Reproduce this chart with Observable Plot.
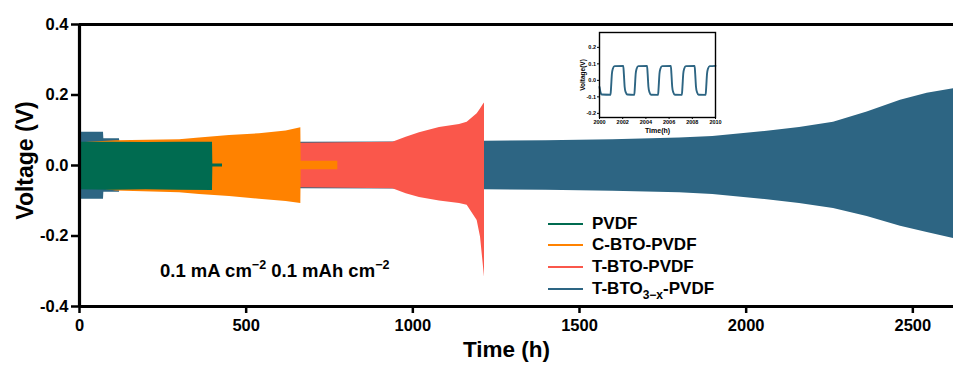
<!DOCTYPE html>
<html>
<head>
<meta charset="utf-8">
<script src="https://cdn.jsdelivr.net/npm/d3@7"></script>
<script src="https://cdn.jsdelivr.net/npm/@observablehq/plot@0.6"></script>
<style>
  body { margin: 0; background: #fff; }
  #wrap { position: relative; width: 953px; height: 367px; overflow: hidden; font-family: "Liberation Sans", Arial, sans-serif; font-weight: bold; color: #000; }
  #wrap svg { display: block; }
  .abs { position: absolute; }
  .leg { position: absolute; left: 548px; display: flex; align-items: center; height: 20px; font-size: 17px; white-space: nowrap; }
  .leg svg { margin-right: 9px; }
  .leg sub { font-size: 12px; vertical-align: -5px; line-height: 0; }
  sup { font-size: 12.5px; vertical-align: 8px; line-height: 0; }
</style>
</head>
<body>
<div id="wrap"></div>
<script>
// ---- data ----
const seriesNames = ["PVDF", "C-BTO-PVDF", "T-BTO-PVDF", "T-BTO3-x-PVDF"];
const colors = ["#006B50", "#FF8200", "#FA574B", "#2D6583"];

const greenT  = [0, 5, 100, 200, 300, 399, 400, 429];
const greenHi = [0.062, 0.066, 0.066, 0.065, 0.066, 0.066, 0.004, 0.004];
const greenLo = [-0.062, -0.069, -0.070, -0.069, -0.070, -0.071, -0.004, -0.004];

const orangeT  = [0, 30, 110, 300, 360, 450, 540, 620, 664, 665, 775];
const orangeHi = [0.064, 0.066, 0.070, 0.073, 0.078, 0.085, 0.090, 0.098, 0.107, 0.012, 0.012];
const orangeLo = [-0.060, -0.062, -0.072, -0.077, -0.082, -0.088, -0.096, -0.102, -0.108, -0.012, -0.012];

const redT  = [0, 665, 940, 980, 1020, 1080, 1140, 1163, 1193, 1203, 1211, 1215];
const redHi = [0.060, 0.063, 0.066, 0.080, 0.093, 0.108, 0.116, 0.123, 0.147, 0.160, 0.172, 0.177];
const redLo = [-0.060, -0.063, -0.066, -0.080, -0.091, -0.101, -0.108, -0.113, -0.156, -0.203, -0.278, -0.317];

const blueT  = [0, 72, 73, 120, 121, 665, 950, 1215, 1400, 1600, 1800, 1900, 2063, 2160, 2262, 2363, 2463, 2543, 2622];
const blueHi = [0.094, 0.094, 0.076, 0.076, 0.066, 0.066, 0.067, 0.069, 0.070, 0.073, 0.078, 0.082, 0.097, 0.108, 0.123, 0.152, 0.185, 0.205, 0.218];
const blueLo = [-0.096, -0.096, -0.076, -0.076, -0.066, -0.066, -0.067, -0.069, -0.070, -0.073, -0.077, -0.082, -0.097, -0.108, -0.122, -0.145, -0.172, -0.190, -0.207];

const xTicks = [0, 500, 1000, 1500, 2000, 2500];
const yTicks = [-0.4, -0.2, 0.0, 0.2, 0.4];

// inset: T-BTO3-x-PVDF, 2000-2010 h
const insetT = [2000.0, 2000.08, 2000.2,
  2000.95, 2001.0, 2001.07, 2001.15, 2001.3,
  2002.05, 2002.1, 2002.17, 2002.25, 2002.4,
  2003.0, 2003.05, 2003.12, 2003.2, 2003.35,
  2004.1, 2004.15, 2004.22, 2004.3, 2004.45,
  2005.05, 2005.1, 2005.17, 2005.25, 2005.4,
  2006.15, 2006.2, 2006.27, 2006.35, 2006.5,
  2007.1, 2007.15, 2007.22, 2007.3, 2007.45,
  2008.2, 2008.25, 2008.32, 2008.4, 2008.55,
  2009.15, 2009.2, 2009.27, 2009.35, 2009.5,
  2010.0];
const insetV = [-0.040, -0.070, -0.086,
  -0.087, -0.040, 0.040, 0.070, 0.086,
  0.087, 0.040, -0.040, -0.070, -0.086,
  -0.088, -0.040, 0.040, 0.070, 0.086,
  0.087, 0.040, -0.040, -0.070, -0.087,
  -0.088, -0.040, 0.040, 0.070, 0.086,
  0.087, 0.040, -0.040, -0.070, -0.087,
  -0.088, -0.040, 0.040, 0.070, 0.086,
  0.087, 0.040, -0.040, -0.070, -0.087,
  -0.088, -0.040, 0.040, 0.070, 0.086,
  0.088];
const insetXTicks = [2000, 2002, 2004, 2006, 2008, 2010];
const insetYTicks = [-0.2, -0.1, 0.0, 0.1, 0.2];

// ---- build ----
const band = (T, H, L) => T.map((t, i) => ({t, hi: H[i], lo: L[i]}));
const bands = [
  band(blueT, blueHi, blueLo),
  band(redT, redHi, redLo),
  band(orangeT, orangeHi, orangeLo),
  band(greenT, greenHi, greenLo)
];
const bandColors = [colors[3], colors[2], colors[1], colors[0]];
const font = "'Liberation Sans', Arial, sans-serif";

const main = Plot.plot({
  width: 953, height: 367,
  marginLeft: 79, marginRight: 0, marginTop: 24, marginBottom: 61,
  x: {domain: [0, 2622]},
  y: {domain: [-0.4, 0.4]},
  style: {fontFamily: font, fontWeight: "bold", color: "#000", background: "#fff", overflow: "visible"},
  marks: [
    ...bands.map((b, i) => Plot.areaY(b, {x: "t", y1: "lo", y2: "hi", fill: bandColors[i], curve: "linear"})),
    Plot.ruleY([-0.4, 0.4], {strokeWidth: 3.2, stroke: "#000"}),
    Plot.ruleX([0], {strokeWidth: 3.2, stroke: "#000"}),
    Plot.axisX({ticks: xTicks, tickFormat: "d", tickSize: 7, tickPadding: 6, strokeWidth: 2.5, fontSize: 16.5, fontWeight: "bold", label: null}),
    Plot.axisY({ticks: yTicks, tickFormat: d => d.toFixed(1), tickSize: 8, tickPadding: 3, strokeWidth: 2.5, fontSize: 16.5, fontWeight: "bold", label: null}),
    Plot.text(["Time (h)"], {frameAnchor: "bottom", dx: -10, dy: 50, fontSize: 22.5, fontWeight: "bold", fill: "#000"}),
    Plot.text(["Voltage (V)"], {frameAnchor: "left", textAnchor: "middle", dx: -54, dy: -5, rotate: -90, fontSize: 23, fontWeight: "bold", fill: "#000"})
  ]
});

const insetData = insetT.map((t, i) => ({t, v: insetV[i]}));
const inset = Plot.plot({
  width: 160, height: 115,
  marginLeft: 39, marginRight: 5, marginTop: 7, marginBottom: 23,
  x: {domain: [2000, 2010]},
  y: {domain: [-0.225, 0.29]},
  style: {fontFamily: font, fontWeight: "bold", color: "#000", background: "transparent", overflow: "visible"},
  marks: [
    Plot.line(insetData, {x: "t", y: "v", stroke: colors[3], strokeWidth: 1.9, curve: "monotone-x"}),
    Plot.frame({stroke: "#000", strokeWidth: 1.4}),
    Plot.axisX({ticks: insetXTicks, tickFormat: "d", tickSize: 2, tickPadding: 1, strokeWidth: 1, fontSize: 5.5, fontWeight: "bold", label: null}),
    Plot.axisY({ticks: insetYTicks, tickFormat: d => d.toFixed(1), tickSize: 2, tickPadding: 1.5, strokeWidth: 1, fontSize: 5.5, fontWeight: "bold", label: null}),
    Plot.text(["Time(h)"], {frameAnchor: "bottom", dy: 15, fontSize: 7, fontWeight: "bold", fill: "#000"}),
    Plot.text(["Voltage(V)"], {frameAnchor: "left", textAnchor: "middle", dx: -17, rotate: -90, fontSize: 6.5, fontWeight: "bold", fill: "#000"})
  ]
});

const wrap = document.getElementById("wrap");
wrap.appendChild(main);
inset.classList.add("abs");
inset.style.left = "560px";
inset.style.top = "25px";
wrap.appendChild(inset);

// legend
const legendLabels = ["PVDF", "C-BTO-PVDF", "T-BTO-PVDF", "T-BTO<sub>3\u2212x</sub>-PVDF"];
const legendY = [224, 245, 267, 289];
legendLabels.forEach((lab, i) => {
  const d = document.createElement("div");
  d.className = "leg";
  d.style.top = (legendY[i] - 10) + "px";
  d.innerHTML = `<svg width="35" height="4"><line x1="0" x2="35" y1="2" y2="2" stroke="${colors[i]}" stroke-width="2"/></svg><span>${lab}</span>`;
  wrap.appendChild(d);
});

// annotation
const ann = document.createElement("div");
ann.className = "abs";
ann.style.left = "160px";
ann.style.top = "261px";
ann.style.fontSize = "18.5px";
ann.style.lineHeight = "20px";
ann.style.whiteSpace = "nowrap";
ann.innerHTML = "0.1 mA cm<sup>\u22122</sup> 0.1 mAh cm<sup>\u22122</sup>";
wrap.appendChild(ann);
</script>
</body>
</html>
